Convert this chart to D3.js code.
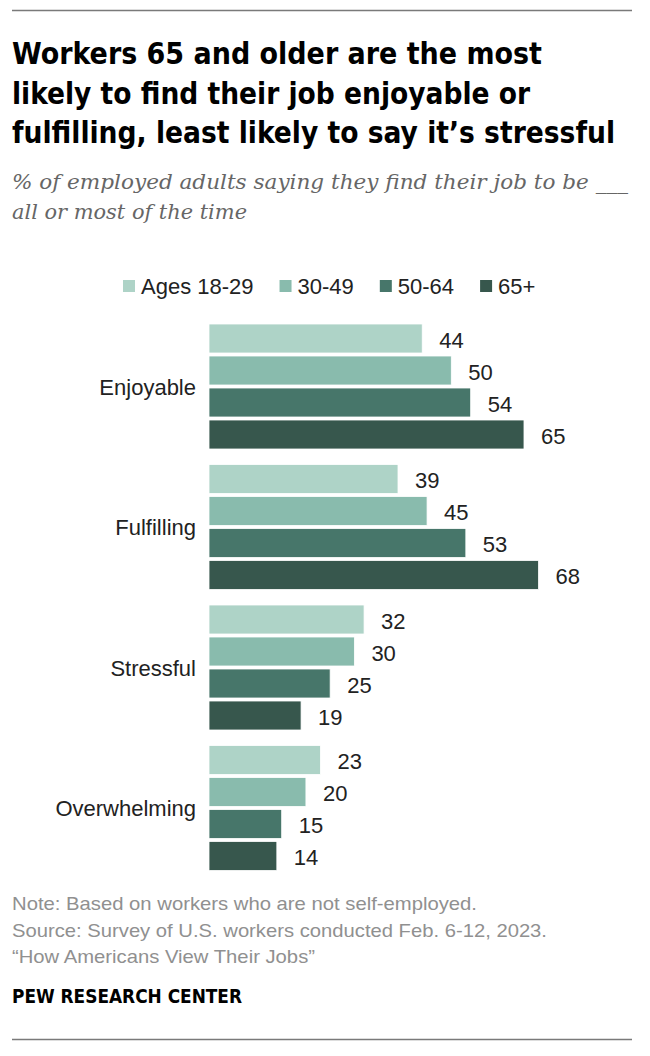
<!DOCTYPE html>
<html>
<head>
<meta charset="utf-8">
<script src="https://cdn.jsdelivr.net/npm/d3@7"></script>
<style>
  html, body { margin: 0; padding: 0; background: #fff; }
  svg { display: block; }
</style>
</head>
<body>
<script>
const categories = ["Enjoyable", "Fulfilling", "Stressful", "Overwhelming"];
const seriesNames = ["Ages 18-29", "30-49", "50-64", "65+"];
const ages18_29 = [44, 39, 32, 23];
const ages30_49 = [50, 45, 30, 20];
const ages50_64 = [54, 53, 25, 15];
const ages65plus = [65, 68, 19, 14];
const colors = ["#aed3c7", "#89bbad", "#47766a", "#37574d"];

const titleLines = [
  "Workers 65 and older are the most",
  "likely to find their job enjoyable or",
  "fulfilling, least likely to say it\u2019s stressful"
];
const subtitleLines = [
  "% of employed adults saying they find their job to be ___",
  "all or most of the time"
];
const noteLines = [
  "Note: Based on workers who are not self-employed.",
  "Source: Survey of U.S. workers conducted Feb. 6-12, 2023.",
  "\u201cHow Americans View Their Jobs\u201d"
];
const brand = "PEW RESEARCH CENTER";

const seriesValues = [ages18_29, ages30_49, ages50_64, ages65plus];
const data = categories.map((c, i) => ({
  category: c,
  values: seriesNames.map((s, j) => ({ series: s, value: seriesValues[j][i], idx: j }))
}));

const W = 650, H = 1056;
const svg = d3.select("body").append("svg").attr("width", W).attr("height", H);

const sansCond = "'Liberation Sans Narrow', 'DejaVu Sans Condensed', 'Liberation Sans', sans-serif";
const sans = "'Liberation Sans', Arial, sans-serif";

// rules
svg.append("line").attr("x1", 12).attr("x2", 632).attr("y1", 10.5).attr("y2", 10.5)
  .attr("stroke", "#7a7a7a").attr("stroke-width", 1.5);
svg.append("line").attr("x1", 12).attr("x2", 632).attr("y1", 1039.5).attr("y2", 1039.5)
  .attr("stroke", "#7a7a7a").attr("stroke-width", 1.5);

// fit a text element to a target width
function fitWidth(sel, target) {
  sel.each(function () {
    const w = this.getComputedTextLength();
    if (w > 0) d3.select(this).attr("textLength", target).attr("lengthAdjust", "spacingAndGlyphs");
  });
}

// title
const titleEnds = [542, 530, 615];
svg.append("g").selectAll("text").data(titleLines).join("text")
  .attr("x", 12).attr("y", (d, i) => 64 + i * 39.5)
  .attr("font-family", sansCond).attr("font-weight", "bold").attr("font-size", 29.5)
  .attr("fill", "#000").text(d => d)
  .each(function (d, i) { fitWidth(d3.select(this), titleEnds[i] - 12); });

// subtitle
const subEnds = [628, 247];
svg.append("g").selectAll("text").data(subtitleLines).join("text")
  .attr("x", 12).attr("y", (d, i) => 189 + i * 30)
  .attr("font-family", "'DejaVu Serif', 'Liberation Serif', serif").attr("font-style", "italic")
  .attr("font-size", 20).attr("fill", "#666").text(d => d)
  .each(function (d, i) { fitWidth(d3.select(this), subEnds[i] - 12); });

// scales
const x = d3.scaleLinear().domain([0, 100]).range([209, 693.6]);
const y0 = d3.scaleBand().domain(categories).range([316.25, 878.25]);
const y1 = d3.scaleBand().domain(seriesNames).range([7.75, 132.75]).paddingInner(3 / 32);
const color = d3.scaleOrdinal().domain(seriesNames).range(colors);

// legend
const legend = svg.append("g").attr("transform", "translate(123,286)");
let lx = 0;
seriesNames.forEach((s) => {
  const g = legend.append("g").attr("transform", `translate(${lx},0)`);
  g.append("rect").attr("x", 0).attr("y", -6).attr("width", 12).attr("height", 12).attr("fill", color(s));
  const t = g.append("text").attr("x", 18).attr("y", 8)
    .attr("font-family", sans).attr("font-size", 22).attr("fill", "#222").text(s);
  lx += 18 + t.node().getComputedTextLength() + 26;
});

// groups
const groups = svg.append("g").selectAll("g").data(data).join("g")
  .attr("transform", d => `translate(0,${y0(d.category)})`);

groups.append("text")
  .attr("x", 196).attr("y", y0.bandwidth() / 2 + 8)
  .attr("text-anchor", "end").attr("font-family", sans).attr("font-size", 22).attr("fill", "#222")
  .text(d => d.category);

groups.selectAll("rect").data(d => d.values).join("rect")
  .attr("x", x(0)).attr("y", d => y1(d.series))
  .attr("width", d => x(d.value) - x(0)).attr("height", y1.bandwidth())
  .attr("fill", d => color(d.series))
  .attr("stroke", "#fff").attr("stroke-width", 0.8);

groups.selectAll("text.val").data(d => d.values).join("text").attr("class", "val")
  .attr("x", d => x(d.value) + 17).attr("y", d => y1(d.series) + y1.bandwidth() / 2 + 9)
  .attr("font-family", sans).attr("font-size", 22).attr("fill", "#222")
  .text(d => d.value);

// notes
const noteEnds = [477, 547, 315];
svg.append("g").selectAll("text").data(noteLines).join("text")
  .attr("x", 12).attr("y", (d, i) => 910 + i * 26.5)
  .attr("font-family", sans).attr("font-size", 18.5).attr("fill", "#909090").text(d => d)
  .each(function (d, i) { fitWidth(d3.select(this), noteEnds[i] - 12); });

svg.append("text").attr("x", 12).attr("y", 1003)
  .attr("font-family", sansCond).attr("font-weight", "bold").attr("font-size", 19).attr("fill", "#000")
  .text(brand)
  .each(function () { fitWidth(d3.select(this), 242 - 12); });
</script>
</body>
</html>
